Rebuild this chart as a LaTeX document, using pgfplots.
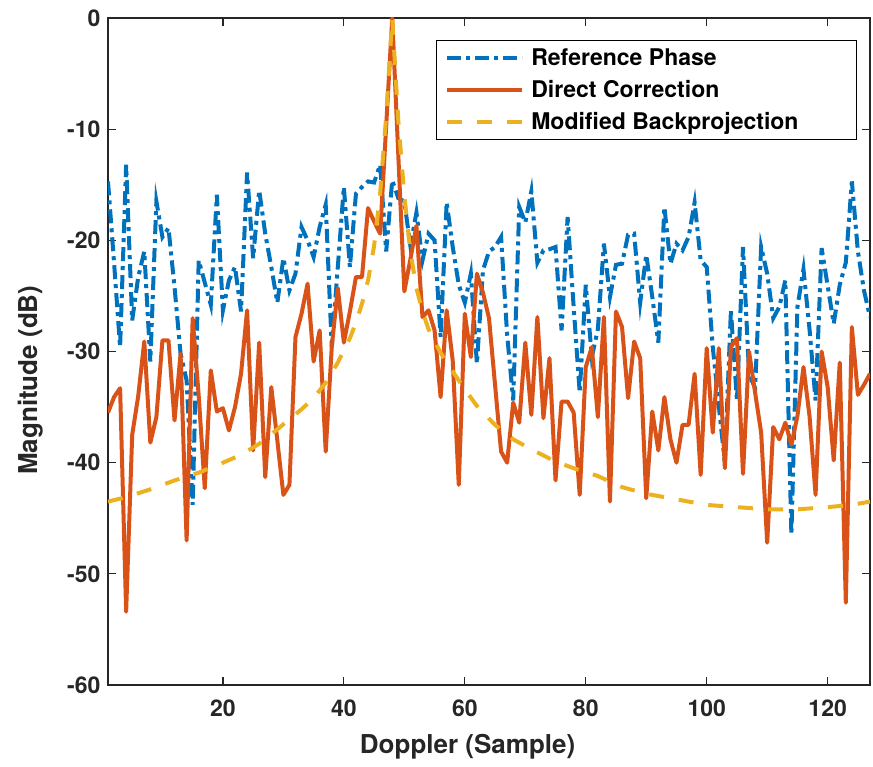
\documentclass[border=0pt]{standalone}
\usepackage{fontspec}
\setmainfont{TeX Gyre Heros}
\usepackage{pgfplots}
\usepackage{pgfplotstable}
\pgfplotsset{compat=1.18}
\definecolor{mblue}{rgb}{0,0.447,0.741}
\definecolor{morange}{rgb}{0.85,0.325,0.098}
\definecolor{myellow}{rgb}{0.929,0.694,0.125}
\definecolor{axgray}{rgb}{0.15,0.15,0.15}

\pgfplotstableread{
x y
1 -14.7
2 -22.0
3 -29.6
4 -13.2
5 -27.2
6 -23.3
7 -21.0
8 -30.9
9 -16.5
10 -19.7
11 -18.9
12 -24.2
13 -30.2
14 -32.6
15 -43.8
16 -21.8
17 -23.8
18 -25.8
19 -15.9
20 -26.3
21 -23.6
22 -22.4
23 -26.4
24 -13.9
25 -21.6
26 -15.5
27 -19.4
28 -22.4
29 -25.6
30 -21.6
31 -24.5
32 -23.0
33 -18.8
34 -20.0
35 -21.5
36 -18.8
37 -16.8
38 -29.6
39 -22.4
40 -15.2
41 -22.4
42 -15.8
43 -15.2
44 -14.7
45 -14.8
46 -13.2
47 -21.0
48 -14.6
49 -16.2
50 -16.5
51 -20.5
52 -17.5
53 -21.8
54 -19.4
55 -20.0
56 -28.7
57 -16.6
58 -20.6
59 -24.0
60 -25.6
61 -23.0
62 -31.1
63 -22.7
64 -21.0
65 -20.6
66 -19.7
67 -28.5
68 -34.4
69 -17.0
70 -18.4
71 -15.6
72 -22.0
73 -20.9
74 -20.8
75 -20.6
76 -28.1
77 -17.9
78 -26.0
79 -33.7
80 -24.0
81 -30.5
82 -28.0
83 -20.3
84 -25.1
85 -22.2
86 -22.1
87 -19.5
88 -19.4
89 -25.6
90 -21.3
91 -25.1
92 -29.2
93 -17.0
94 -22.1
95 -20.3
96 -20.9
97 -19.7
98 -16.6
99 -21.8
100 -22.4
101 -29.6
102 -34.9
103 -40.0
104 -26.3
105 -34.4
106 -20.6
107 -32.0
108 -33.3
109 -20.6
110 -23.0
111 -27.0
112 -26.0
113 -23.6
114 -46.5
115 -26.0
116 -22.6
117 -28.0
118 -34.4
119 -20.7
120 -24.1
121 -27.5
122 -24.0
123 -22.0
124 -14.7
125 -21.0
126 -24.5
127 -26.9
}\bluedata

\pgfplotstableread{
x y
1 -35.5
2 -34.1
3 -33.3
4 -53.4
5 -37.5
6 -34.0
7 -29.1
8 -38.2
9 -35.9
10 -29.0
11 -29.0
12 -36.2
13 -30.2
14 -47.0
15 -27.0
16 -34.0
17 -42.3
18 -31.7
19 -35.4
20 -35.1
21 -37.1
22 -35.0
23 -32.0
24 -26.3
25 -38.9
26 -29.2
27 -41.3
28 -33.2
29 -38.0
30 -42.9
31 -42.0
32 -28.7
33 -26.6
34 -23.9
35 -30.9
36 -28.1
37 -39.0
38 -29.6
39 -24.3
40 -29.2
41 -26.4
42 -23.3
43 -23.3
44 -17.1
45 -18.3
46 -19.4
47 -9.7
48 0
49 -12.3
50 -24.6
51 -21.7
52 -18.7
53 -26.9
54 -26.3
55 -28.1
56 -34.1
57 -26.3
58 -30.8
59 -42.0
60 -26.6
61 -30.5
62 -23.0
63 -24.7
64 -27.0
65 -33.0
66 -39.0
67 -40.0
68 -34.6
69 -36.4
70 -29.2
71 -35.7
72 -26.9
73 -36.0
74 -30.6
75 -41.6
76 -34.5
77 -34.5
78 -35.5
79 -42.9
80 -31.4
81 -29.6
82 -35.9
83 -26.9
84 -43.5
85 -26.4
86 -27.8
87 -34.2
88 -29.1
89 -30.6
90 -43.2
91 -35.4
92 -38.9
93 -34.1
94 -37.9
95 -40.0
96 -36.6
97 -36.6
98 -32.0
99 -41.1
100 -29.7
101 -37.3
102 -29.7
103 -40.5
104 -29.6
105 -28.8
106 -41.0
107 -30.0
108 -33.7
109 -37.3
110 -47.2
111 -36.8
112 -37.9
113 -36.4
114 -38.4
115 -35.8
116 -31.4
117 -35.8
118 -42.9
119 -30.0
120 -33.2
121 -39.8
122 -31.0
123 -52.6
124 -27.8
125 -33.9
126 -33.0
127 -32.0
}\orangedata

\pgfplotstableread{
x y
1 -43.5
4 -43.1
8 -42.4
12 -41.6
16 -40.9
20 -40.0
23 -39.3
26 -38.3
29 -37.0
31 -36.1
33 -35.2
35 -34.2
37 -32.8
38 -31.9
39 -31.0
40 -29.9
41 -28.8
42 -27.4
43 -25.7
44 -23.6
45 -20.5
46 -15.8
47 -8.8
48 0
49 -9.2
50 -16.0
51 -21.0
52 -24.3
53 -26.4
54 -28.0
55 -29.1
56 -30.1
57 -31.0
58 -31.8
60 -33.4
62 -34.9
65 -36.6
68 -37.9
71 -38.8
75 -39.9
78 -40.5
82 -41.2
86 -42.2
90 -42.8
95 -43.3
100 -43.8
105 -44.0
110 -44.2
115 -44.2
120 -44.0
124 -43.8
127 -43.5
}\yellowdata

\begin{document}
\begin{tikzpicture}
\begin{axis}[
  at={(0pt,0pt)}, anchor=south west,
  scale only axis, width=762pt, height=667pt,
  xmin=1, xmax=127, ymin=-60, ymax=0,
  xtick={20,40,60,80,100,120},
  xticklabels={20,40,60,80,100,120},
  ytick={-60,-50,-40,-30,-20,-10,0},
  yticklabels={-60,-50,-40,-30,-20,-10,0},
  tick align=inside, major tick length=8pt,
  every tick/.style={axgray, line width=1.2pt},
  axis line style={axgray, line width=1.3pt},
  ticklabel style={font=\bfseries\fontsize{23}{27}\selectfont, text=axgray},
  xticklabel style={yshift=-11pt},
  yticklabel style={xshift=-4pt},
  xlabel={Doppler (Sample)},
  ylabel={Magnitude (dB)},
  label style={font=\bfseries\fontsize{26}{30}\selectfont, text=axgray},
  xlabel style={at={(axis description cs:0.472,-0.093)}, anchor=center},
  ylabel style={at={(axis description cs:-0.102,0.457)}, anchor=center},
  legend style={at={(0.983,0.967)}, anchor=north east, draw=black, line width=1pt,
    fill=white, font=\bfseries\fontsize{23}{27}\selectfont, row sep=9.5pt,
    column sep=5pt, inner xsep=9pt, inner ysep=6pt},
  legend cell align=left,
  legend image code/.code={\draw[#1] (0pt,0pt) -- (75pt,0pt);},
]
\addplot[mblue, line width=4pt, dash pattern=on 14pt off 5pt on 4pt off 5pt] table[x=x,y=y] {\bluedata};
\addlegendentry{Reference Phase}
\addplot[morange, line width=4pt, line join=round] table[x=x,y=y] {\orangedata};
\addlegendentry{Direct Correction}
\addplot[myellow, line width=4pt, dash pattern=on 15pt off 15pt] table[x=x,y=y] {\yellowdata};
\addlegendentry{Modified Backprojection\rule{47pt}{0pt}}
\end{axis}
\pgfresetboundingbox
\path (-108pt,-81pt) rectangle (765pt,685pt);
\end{tikzpicture}
\end{document}
